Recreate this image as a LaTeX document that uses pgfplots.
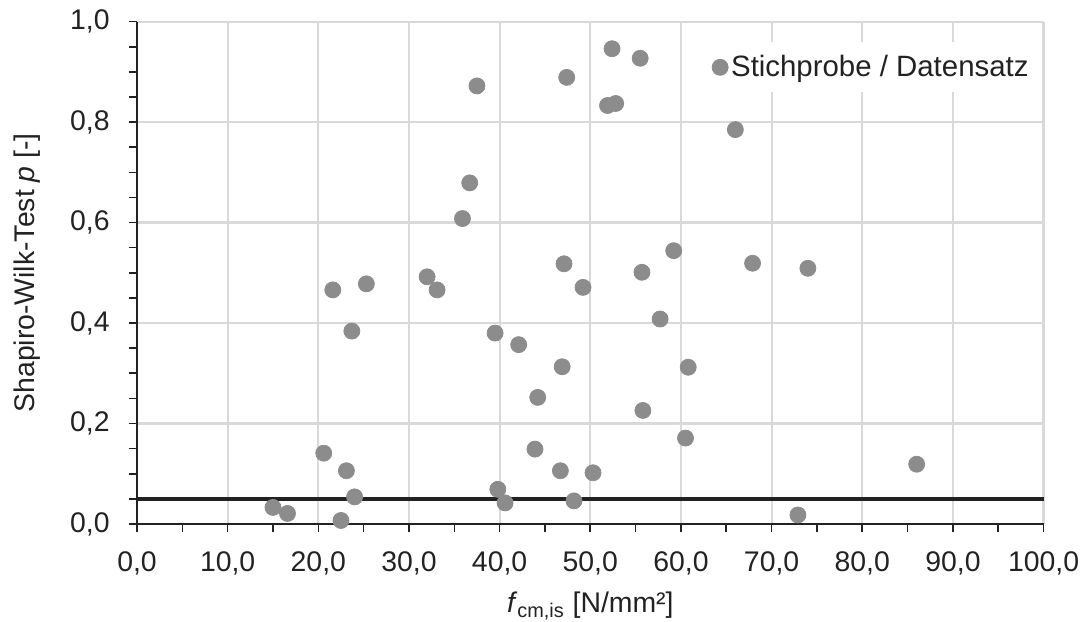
\documentclass[border=0pt]{standalone}
\usepackage{fontspec}
\setmainfont{Liberation Sans}
\usepackage{pgfplots}
\pgfplotsset{compat=1.18}
\definecolor{dotgray}{HTML}{8C8C8C}
\definecolor{gridgray}{HTML}{D9D9D9}
\definecolor{txt}{HTML}{222222}

% Shapiro-Wilk p-values of the individual samples over the mean strength
\pgfplotstableread{
x     p
15.0  0.033
16.6  0.021
20.6  0.141
21.6  0.466
22.5  0.007
23.1  0.106
23.7  0.384
24.0  0.054
25.3  0.478
32.0  0.492
33.1  0.466
35.9  0.608
36.7  0.679
37.5  0.872
39.5  0.380
39.8  0.069
40.6  0.042
42.1  0.357
43.9  0.149
44.2  0.252
46.7  0.106
46.9  0.313
47.1  0.518
47.4  0.889
48.2  0.046
49.2  0.471
50.3  0.102
51.9  0.833
52.4  0.946
52.8  0.837
55.5  0.927
55.7  0.501
55.8  0.226
57.7  0.408
59.2  0.544
60.5  0.171
60.8  0.312
66.0  0.785
67.9  0.519
72.9  0.018
74.0  0.509
86.0  0.119
}\swdata

\begin{document}
\begin{tikzpicture}[font=\fontsize{14.2}{17}\selectfont, text=txt]
\begin{axis}[
  name=ax, at={(0,0)}, anchor=south west,
  scale only axis, width=453.3pt, height=251.2pt,
  xmin=0, xmax=100, ymin=0, ymax=1,
  axis x line=bottom, axis y line=left,
  axis line style={-, line width=1pt, draw=txt},
  xtick distance=10, ytick distance=0.2,
  minor x tick num=1, minor y tick num=3,
  tick align=outside, major tick length=4pt, minor tick length=4pt,
  tick style={line width=0.8pt, draw=txt},
  grid=major, major grid style={gridgray, line width=1.1pt},
  clip=false,
  /pgf/number format/.cd, use comma, fixed, fixed zerofill, precision=1,
  assume math mode=true, /pgfplots/.cd,
  xticklabel style={anchor=north, inner sep=0pt, yshift=-9.5pt},
  yticklabel style={anchor=east, inner sep=0pt, xshift=-9.5pt},
  xlabel={\textit{f}\textsubscript{cm,is} [N/mm²]},
  ylabel={Shapiro-Wilk-Test \textit{p} [-]},
  xlabel style={at={(axis description cs:0.5,-0.177)}, anchor=base},
  ylabel style={at={(axis description cs:-0.1133,0.5)}, anchor=base},
  legend style={at={(rel axis cs:0.996,0.909)}, anchor=east,
    draw=none, fill=white, inner xsep=4pt, inner ysep=5pt,
    font=\fontsize{14.7}{17}\selectfont,
    nodes={inner sep=1.5pt}},
  legend cell align=left,
  legend image code/.code={\draw[#1] plot coordinates {(0pt,0pt)};},
]
% 5 % significance level
\addplot[txt, line width=2pt, forget plot] coordinates {(0,0.05) (100,0.05)};
\addplot[dotgray, only marks, mark=*, mark size=4pt,
  mark options={draw=dotgray, fill=dotgray}] table[x=x, y=p] {\swdata};
\addlegendentry{Stichprobe / Datensatz}
\end{axis}
\pgfresetboundingbox
\path[use as bounding box] (-68.5pt,-49pt) rectangle (473.5pt,262pt);
\end{tikzpicture}
\end{document}
